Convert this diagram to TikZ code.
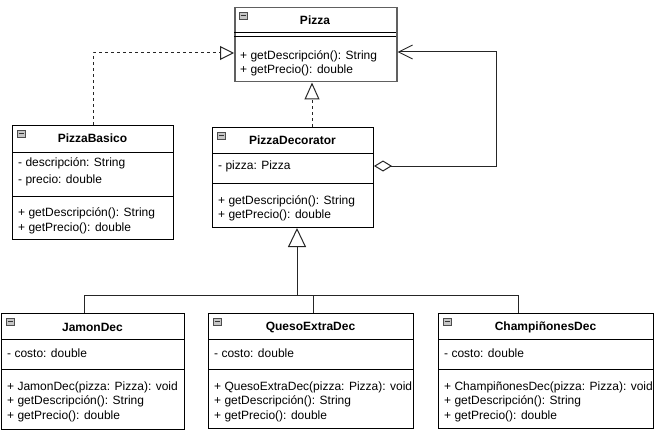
\documentclass[tikz,border=0pt]{standalone}
\usepackage{fontspec}
\setmainfont{Liberation Sans}
\usetikzlibrary{arrows.meta,calc}
\begin{document}
\begin{tikzpicture}[x=1pt,y=-1pt,
  font=\fontsize{12}{14}\selectfont,
  cls/.style={draw=black, line width=1pt, inner sep=0pt, anchor=north west, fill=white},
  sepline/.style={draw=black, line width=1pt},
  txt/.style={anchor=west, inner sep=0pt},
  ttl/.style={inner sep=0pt, font=\fontsize{12}{14}\selectfont\bfseries},
  link/.style={draw=black!85, line width=1pt},
  dsh/.style={dash pattern=on 3pt off 3pt},
  minus/.pic={\draw[fill=gray!45, draw=gray!60!black, line width=0.6pt] (0,0) rectangle (8,7);
              \draw[line width=1.3pt, black!80] (1.5,3.2) -- (6.5,3.2);}]
\useasboundingbox (0,0) rectangle (661,433);

% ---------- Pizza ----------
\node[cls, draw=gray!75!black, line width=1.5pt, minimum width=162pt, minimum height=74pt] (pizza) at (234,7) {};
\pic at ($(pizza.north west)+(5,5)$) {minus};
\node[ttl] (pizzaT) at (315,20) {Pizza};
\draw[sepline] (234,33) -- (396,33);
\draw[sepline] (234,37) -- (396,37);
\node[txt] (pizzaM1) at (240,56) {+ getDescripción(): String};
\node[txt] (pizzaM2) at (240,70) {+ getPrecio(): double};

% ---------- PizzaBasico ----------
\node[cls, minimum width=161pt, minimum height=114pt] (pb) at (12,125) {};
\pic at ($(pb.north west)+(5,5)$) {minus};
\node[ttl] (pbT) at (92.5,138) {PizzaBasico};
\draw[sepline] (12,152) -- (173,152);
\draw[sepline] (12,196) -- (173,196);
\node[txt] (pbA1) at (18,163) {- descripción: String};
\node[txt] (pbA2) at (18,180) {- precio: double};
\node[txt] (pbM1) at (18,213) {+ getDescripción(): String};
\node[txt] (pbM2) at (18,228) {+ getPrecio(): double};

% ---------- PizzaDecorator ----------
\node[cls, minimum width=161pt, minimum height=100pt] (pd) at (212,127) {};
\pic at ($(pd.north west)+(5,5)$) {minus};
\node[ttl] (pdT) at (292.5,140) {PizzaDecorator};
\draw[sepline] (212,153) -- (373,153);
\draw[sepline] (212,183) -- (373,183);
\node[txt] (pdA1) at (218,166) {- pizza: Pizza};
\node[txt] (pdM1) at (218,201) {+ getDescripción(): String};
\node[txt] (pdM2) at (218,215) {+ getPrecio(): double};

% ---------- JamonDec ----------
\node[cls, minimum width=183pt, minimum height=116pt] (jd) at (1,313) {};
\pic at ($(jd.north west)+(5,5)$) {minus};
\node[ttl] (jdT) at (92.5,327) {JamonDec};
\draw[sepline] (1,339) -- (184,339);
\draw[sepline] (1,369) -- (184,369);
\node[txt] (jdA1) at (7,353) {- costo: double};
\node[txt] (jdM1) at (7,387) {+ JamonDec(pizza: Pizza): void};
\node[txt] (jdM2) at (7,401) {+ getDescripción(): String};
\node[txt] (jdM3) at (7,416) {+ getPrecio(): double};

% ---------- QuesoExtraDec ----------
\node[cls, minimum width=205pt, minimum height=115pt] (qd) at (208,313) {};
\pic at ($(qd.north west)+(5,5)$) {minus};
\node[ttl] (qdT) at (310.5,327) {QuesoExtraDec};
\draw[sepline] (208,339) -- (413,339);
\draw[sepline] (208,369) -- (413,369);
\node[txt] (qdA1) at (214,353) {- costo: double};
\node[txt] (qdM1) at (214,387) {+ QuesoExtraDec(pizza: Pizza): void};
\node[txt] (qdM2) at (214,401) {+ getDescripción(): String};
\node[txt] (qdM3) at (214,416) {+ getPrecio(): double};

% ---------- ChampiñonesDec ----------
\node[cls, minimum width=215pt, minimum height=115pt] (cd) at (438,313) {};
\pic at ($(cd.north west)+(5,5)$) {minus};
\node[ttl] (cdT) at (545.5,327) {ChampiñonesDec};
\draw[sepline] (438,339) -- (653,339);
\draw[sepline] (438,369) -- (653,369);
\node[txt] (cdA1) at (444,353) {- costo: double};
\node[txt] (cdM1) at (444,387) {+ ChampiñonesDec(pizza: Pizza): void};
\node[txt] (cdM2) at (444,401) {+ getDescripción(): String};
\node[txt] (cdM3) at (444,416) {+ getPrecio(): double};

% ---------- connectors ----------
\draw[link, dsh, -{Triangle[open, length=14pt, width=14pt, line width=1pt]}]
  (pb.north) |- ($(pizza.north west)+(0,46)$);
\draw[link, dsh, -{Triangle[open, length=17pt, width=15pt, line width=1pt]}]
  ($(pd.north west)+(100,0)$) -- ($(pizza.south west)+(78,0)$);
\draw[link, {Diamond[open, length=18pt, width=11pt, line width=1pt]}-{Straight Barb[length=14pt, width=14pt, line width=1pt]}]
  ($(pd.north east)+(0,39)$) -- ++(122,0) |- ($(pizza.north east)+(0,45)$);

\coordinate (junc) at (297,295);
\coordinate (jj) at (84,295);
\coordinate (qq) at (313,295);
\coordinate (cc) at (518,295);
\draw[link, -{Triangle[open, length=19pt, width=18pt, line width=1pt]}] (junc) -- (pd.south -| junc);
\draw[link] (jd.north -| jj) -- (jj) -- (cc) -- (cd.north -| cc);
\draw[link] (qq) -- (qd.north -| qq);
\end{tikzpicture}
\end{document}
